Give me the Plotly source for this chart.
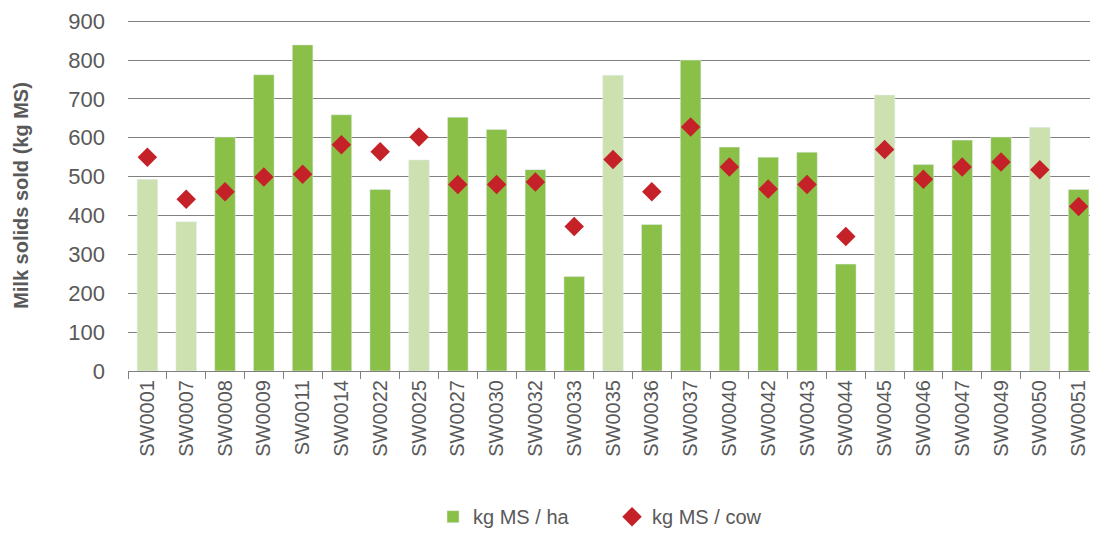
import plotly.graph_objects as go

farms = ["SW0001", "SW0007", "SW0008", "SW0009", "SW0011", "SW0014", "SW0022",
         "SW0025", "SW0027", "SW0030", "SW0032", "SW0033", "SW0035", "SW0036",
         "SW0037", "SW0040", "SW0042", "SW0043", "SW0044", "SW0045", "SW0046",
         "SW0047", "SW0049", "SW0050", "SW0051"]
ms_per_ha = [493, 384, 602, 762, 839, 659, 467, 543, 653, 621, 518, 243, 761, 377,
             800, 576, 550, 563, 275, 710, 531, 594, 602, 627, 467]
ms_per_cow = [550, 442, 461, 499, 506, 582, 564, 602, 480, 480, 486, 372, 544, 461,
              628, 525, 468, 480, 346, 570, 493, 525, 538, 518, 423]
# farms shown in the pale shade
pale_farms = ["SW0001", "SW0007", "SW0025", "SW0035", "SW0045", "SW0050"]

dark_vals = [None if f in pale_farms else v for f, v in zip(farms, ms_per_ha)]
pale_vals = [v if f in pale_farms else None for f, v in zip(farms, ms_per_ha)]

grey = "#595959"
font = "Liberation Sans, Arial, sans-serif"

fig = go.Figure()
fig.add_trace(go.Bar(x=farms, y=dark_vals, name="kg MS / ha",
                     marker=dict(color="#8abf48"), width=0.53))
fig.add_trace(go.Bar(x=farms, y=pale_vals, name="kg MS / ha pale", showlegend=False,
                     marker=dict(color="#cce1af"), width=0.53))
fig.add_trace(go.Scatter(x=farms, y=ms_per_cow, name="kg MS / cow", mode="markers",
                         marker=dict(symbol="diamond", size=15, color="#c42228")))

# the page body adds an 8px offset, so margins are shifted to compensate
fig.update_layout(
    width=1098, height=536,
    barmode="overlay",
    plot_bgcolor="white", paper_bgcolor="white",
    margin=dict(l=120, r=8, t=12, b=168),
    font=dict(family=font, color=grey),
    legend=dict(orientation="h", x=0.499, xanchor="center", y=-0.415, yanchor="middle",
                font=dict(size=20, color=grey), itemwidth=30, tracegroupgap=0,
                entrywidth=134),
    xaxis=dict(range=[-0.5, len(farms) - 0.5], tickangle=-90,
               tickfont=dict(size=20, color=grey), tickson="boundaries",
               ticks="outside", ticklen=7, tickcolor="#808080", showline=True,
               linecolor="#808080", linewidth=1, showgrid=False, automargin=False),
    yaxis=dict(range=[0, 903], tickvals=[0, 100, 200, 300, 400, 500, 600, 700, 800, 900],
               tickfont=dict(size=22, color=grey), ticklabeloverflow="allow",
               showgrid=True, gridcolor="#808080", gridwidth=1, zeroline=False,
               ticklabelstandoff=22, automargin=False,
               title=dict(text="<b>Milk solids sold (kg MS)</b>", font=dict(size=20, color=grey),
                          standoff=34)),
)

fig.write_html("out.html")
